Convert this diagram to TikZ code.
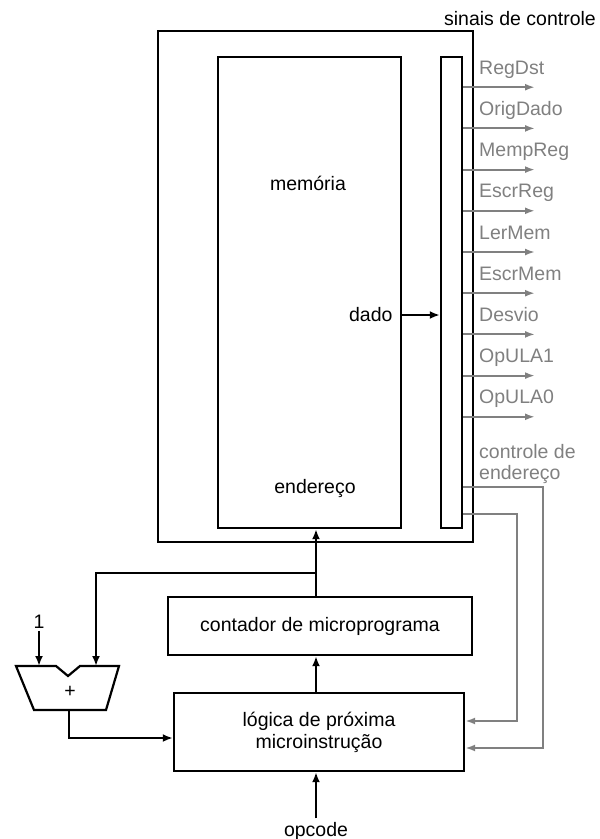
\documentclass[tikz,border=0pt]{standalone}
\usepackage{fontspec}
\setmainfont{Liberation Sans}
\usetikzlibrary{arrows.meta,positioning,calc}
\definecolor{siggray}{RGB}{128,128,128}

\begin{document}
\begin{tikzpicture}[x=1pt,y=-1pt,font=\fontsize{19.5}{22}\selectfont,
blk/.style={draw,line width=2.4pt,inner sep=0pt},
wire/.style={line width=2.2pt,-{Latex[length=10pt,width=8pt]}},
sig/.style={siggray,line width=2pt,-{Latex[length=10pt,width=7pt]}},
lbl/.style={text=siggray,anchor=base west,inner sep=0pt}]
\useasboundingbox (0,0) rectangle (600,839);
% control unit with microprogram memory
\node[blk,minimum width=315pt,minimum height=511pt] (unit) at (315.5,286.5) {};
\node[blk,minimum width=183pt,minimum height=471pt] (mem) at (309.5,292.5) {};
\node[blk,minimum width=21pt,minimum height=471pt] (ctrl) at (451.5,292.5) {};
\node (memlbl) at (308,183) {memória};
\node (endlbl) at (315,488) {endereço};
\node[anchor=east] (dado) at (396,315) {dado};
\draw[wire] (mem.east |- dado) -- (ctrl.west |- dado);
\node (sinais) at (520,19) {sinais de controle};
\foreach \s [count=\i] in {RegDst,OrigDado,MempReg,EscrReg,LerMem,EscrMem,Desvio,OpULA1,OpULA0}{
  \coordinate (s\i) at (535,46+41.2*\i);
  \draw[sig] (ctrl.east |- s\i) -- (s\i);
  \node[lbl] (l\i) at ($(s\i)+(-56,-13)$) {\s};
}
\node[lbl] (ac1) at (479,458) {controle de};
\node[lbl] (ac2) at (479,479) {endereço};
% sequencer
\node[blk,minimum width=304pt,minimum height=58pt] (pc) at (320,626) {contador de microprograma};
\node[blk,minimum width=290pt,minimum height=78pt,align=center] (logic) at (319,732) {lógica de próxima\\microinstrução};
\draw[line width=2.2pt,line join=miter] (16,666) -- (56,666) -- (68,676) -- (80,666) -- (119,666)
  -- (106,710) -- (34,710) -- cycle;
\coordinate (addin1) at (39,666);
\coordinate (addin2) at (96,666);
\coordinate (addout) at (69,710);
\node (plus) at (70,692) {+};
\node[inner sep=2pt] (one) at (39,622) {1};
\coordinate (fork) at (316,573);
\draw[wire] (logic.north -| fork) -- (pc.south -| fork);
\draw[wire] (pc.north -| fork) -- (mem.south -| fork);
\draw[wire] (fork) -| (addin2);
\draw[wire] (one) -- (addin1);
\draw[wire] (addout) |- ($(logic.west)+(0,6)$);
\node[anchor=base] (opcode) at (316,836) {opcode};
\draw[wire] (opcode.north) -- (opcode.north |- logic.south);
% address control feedback
\draw[sig] (ctrl.east |- 0,487) -| (543,748) -- (logic.east |- 0,748);
\draw[sig] (ctrl.east |- 0,514) -| (517,721) -- (logic.east |- 0,721);
\end{tikzpicture}
\end{document}
